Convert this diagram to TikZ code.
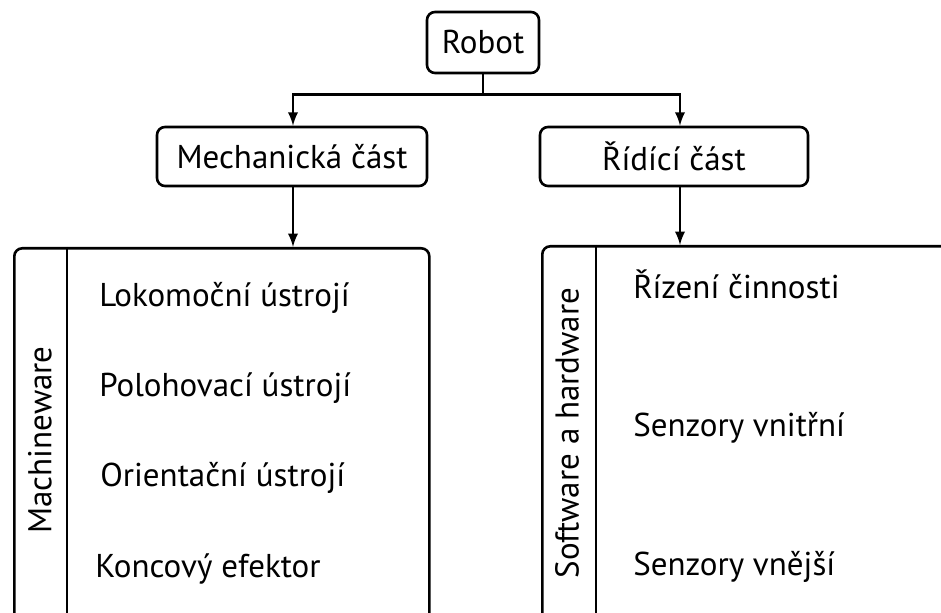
\documentclass[tikz,border=0pt]{standalone}
\usepackage{fontspec}
\setmainfont{PT Sans}
\usetikzlibrary{arrows,positioning,calc}

\begin{document}
\begin{tikzpicture}[x=0.5pt, y=-0.5pt, >=latex, line width=1.3pt, font=\fontsize{16.5}{19}\selectfont]
\tikzstyle{part}=[draw=black,rounded corners=4pt,inner sep=0pt,text=black]
\tikzstyle{frame}=[draw=black,rounded corners=4pt,inner sep=0pt,anchor=north west]
\tikzstyle{item}=[anchor=base west,inner sep=0pt]
\clip (0,0) rectangle (941,613);

\node[part,minimum width=56pt,minimum height=30.5pt]    (R) at (483,42.5) {Robot};
\node[part,minimum width=135pt,minimum height=29.5pt]   (M) at (292,156.5) {Mechanická část};
\node[part,minimum width=134pt,minimum height=29.5pt]   (D) at (674,156.5) {Řídící část};
\node[frame,minimum width=207.5pt,minimum height=200pt] (MF) at (13,247) {};
\node[frame,minimum width=220pt,minimum height=200pt]   (DF) at (541,245) {};
\coordinate (split) at ($(R.south)+(0,20)$);

% rozdelovaci cary
\draw ([xshift=27pt]MF.north west) -- ([xshift=27pt]MF.south west);
\draw ([xshift=27.5pt]DF.north west) -- ([xshift=27.5pt]DF.south west);

\node[rotate=90] (MW) at (40,440) {Machineware};
\node[rotate=90] (SH) at (567,433) {Software a hardware};

\node[item] (L1) at (98,307) {Lokomoční ústrojí};
\node[item] (L2) at (98,397) {Polohovací ústrojí};
\node[item] (L3) at (99,487) {Orientační ústrojí};
\node[item] (L4) at (94,577) {Koncový efektor};
\node[item] (P1) at (632,299) {Řízení činnosti};
\node[item] (P2) at (632,437) {Senzory vnitřní};
\node[item] (P3) at (632,575) {Senzory vnější};

\draw (R.south) -- (split);
\draw[->] (split) -| ([xshift=0.5pt]M.north);
\draw[->] (split) -| ([xshift=3pt]D.north);
\draw[->] ([xshift=0.5pt]M.south) -- ([xshift=0.5pt]M.south |- MF.north);
\draw[->] ([xshift=3pt]D.south) -- ([xshift=3pt]D.south |- DF.north);
\end{tikzpicture}
\end{document}
